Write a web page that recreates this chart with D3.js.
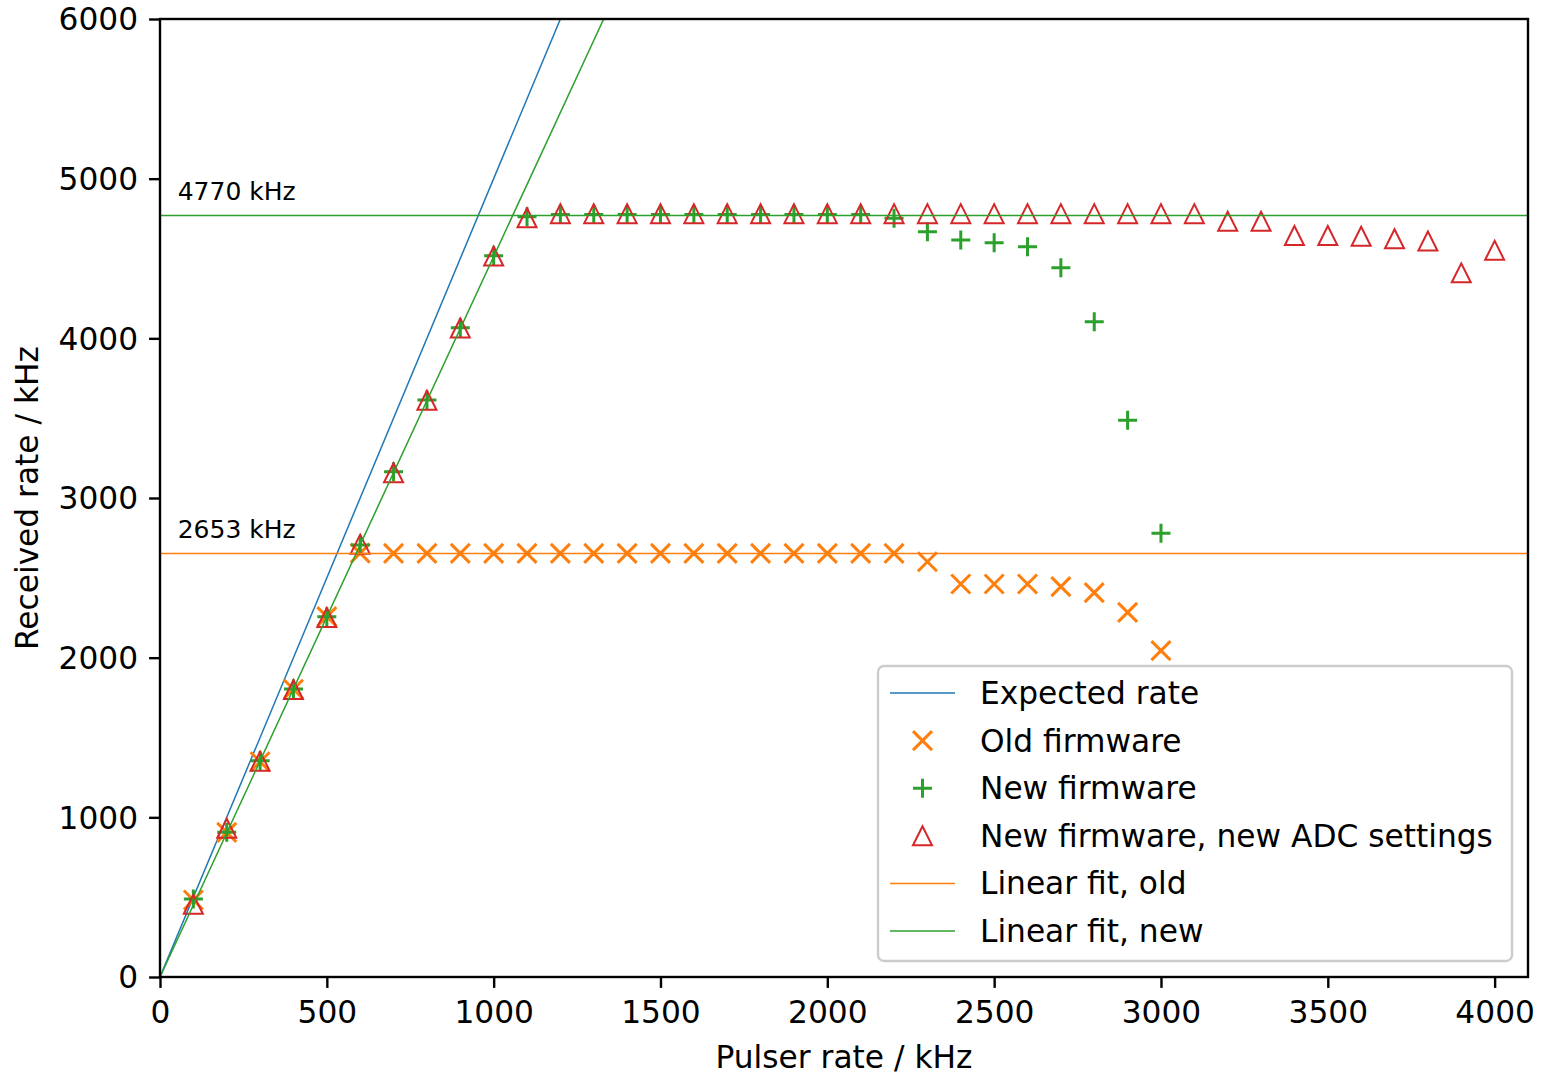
<!DOCTYPE html>
<html>
<head>
<meta charset="utf-8">
<script src="https://cdn.jsdelivr.net/npm/d3@7/dist/d3.min.js"></script>
<style>
  html, body { margin: 0; padding: 0; background: #fff; }
  text { font-family: "DejaVu Sans", sans-serif; }
</style>
</head>
<body>
<svg id="chart" width="1544" height="1075"></svg>
<script>
// ---- data ----
const pulserRates = [100,200,300,400,500,600,700,800,900,1000,1100,1200,1300,1400,1500,1600,1700,1800,1900,2000,
                     2100,2200,2300,2400,2500,2600,2700,2800,2900,3000,3100,3200,3300,3400,3500,3600,3700,3800,3900,4000];
const oldFirmware = [482,906,1348,1802,2257,2655,2653,2653,2653,2653,2653,2653,2653,2653,2653,2653,2653,2653,2653,2653,
                     2653,2653,2601,2461,2461,2461,2445,2407,2284,2044];
const newFirmware = [488,906,1355,1804,2257,2706,3165,3614,4067,4518,4762,4776,4776,4776,4776,4776,4776,4776,4776,4776,
                     4776,4752,4668,4616,4599,4574,4442,4104,3487,2779];
const newFirmwareADC = [456,931,1352,1801,2252,2711,3158,3612,4065,4515,4755,4781,4781,4781,4781,4781,4781,4781,4781,4781,
                        4781,4781,4781,4781,4781,4781,4781,4781,4781,4781,4781,4733,4733,4644,4644,4639,4624,4610,4410,4551];
const expectedSlope = 5.0;
const fitNewSlope = 4.512;
const plateauOld = 2653;
const plateauNew = 4770;
const xTicks = [0,500,1000,1500,2000,2500,3000,3500,4000];
const yTicks = [0,1000,2000,3000,4000,5000,6000];
const legendLabels = ["Expected rate","Old firmware","New firmware","New firmware, new ADC settings","Linear fit, old","Linear fit, new"];

const C = { blue: "#1f77b4", orange: "#ff7f0e", green: "#2ca02c", red: "#d62728" };
const FS = 31.25, FSA = 25;

// ---- layout ----
const svg = d3.select("#chart");
const L = 160, R = 1528, T = 19, B = 977;
const x = d3.scaleLinear().domain([0, 4100]).range([L, R]);
const y = d3.scaleLinear().domain([0, 6000]).range([B, T]);

const defs = svg.append("defs");
defs.append("clipPath").attr("id", "clip").append("rect")
  .attr("x", L).attr("y", T).attr("width", R - L).attr("height", B - T);

const plot = svg.append("g").attr("clip-path", "url(#clip)");

// lines
const line = d3.line().x(d => x(d[0])).y(d => y(d[1]));
plot.append("path").attr("d", line([[0,0],[6000/expectedSlope, 6000]]))
  .attr("stroke", C.blue).attr("stroke-width", 1.5).attr("fill", "none");

// markers
const oldPts = oldFirmware.map((v,i) => [pulserRates[i], v]);
const newPts = newFirmware.map((v,i) => [pulserRates[i], v]);
const adcPts = newFirmwareADC.map((v,i) => [pulserRates[i], v]);

const xs = 9.5;
plot.append("g").selectAll("path").data(oldPts).join("path")
  .attr("d", d => `M${x(d[0])-xs},${y(d[1])-xs}L${x(d[0])+xs},${y(d[1])+xs}M${x(d[0])-xs},${y(d[1])+xs}L${x(d[0])+xs},${y(d[1])-xs}`)
  .attr("stroke", C.orange).attr("stroke-width", 3).attr("fill", "none");

const ps = 9.5;
plot.append("g").selectAll("path").data(newPts).join("path")
  .attr("d", d => `M${x(d[0])-ps},${y(d[1])}L${x(d[0])+ps},${y(d[1])}M${x(d[0])},${y(d[1])-ps}L${x(d[0])},${y(d[1])+ps}`)
  .attr("stroke", C.green).attr("stroke-width", 3).attr("fill", "none");

const ts = 9.5;
plot.append("g").selectAll("path").data(adcPts).join("path")
  .attr("d", d => `M${x(d[0])},${y(d[1])-ts}L${x(d[0])-ts},${y(d[1])+ts}L${x(d[0])+ts},${y(d[1])+ts}Z`)
  .attr("stroke", C.red).attr("stroke-width", 2).attr("fill", "none");

// fit lines
plot.append("path").attr("d", line([[0, plateauOld],[4100, plateauOld]]))
  .attr("stroke", C.orange).attr("stroke-width", 1.5).attr("fill", "none");
plot.append("path").attr("d", line([[0,0],[6000/fitNewSlope, 6000]]))
  .attr("stroke", C.green).attr("stroke-width", 1.5).attr("fill", "none");
plot.append("path").attr("d", line([[0, plateauNew],[4100, plateauNew]]))
  .attr("stroke", C.green).attr("stroke-width", 1.5).attr("fill", "none");

// annotations
svg.append("text").attr("x", x(53)).attr("y", y(plateauNew) - 15)
  .attr("font-size", FSA).text(plateauNew + " kHz");
svg.append("text").attr("x", x(53)).attr("y", y(plateauOld) - 15)
  .attr("font-size", FSA).text(plateauOld + " kHz");

// axes
const xAxis = d3.axisBottom(x).tickValues(xTicks).tickSize(10.9).tickPadding(11).tickFormat(d3.format("d"));
const yAxis = d3.axisLeft(y).tickValues(yTicks).tickSize(10.9).tickPadding(11).tickFormat(d3.format("d"));
const gx = svg.append("g").attr("transform", `translate(0,${B})`).call(xAxis);
const gy = svg.append("g").attr("transform", `translate(${L},0)`).call(yAxis);
[gx, gy].forEach(g => {
  g.select(".domain").remove();
  g.selectAll(".tick line").attr("stroke", "#000").attr("stroke-width", 2.4);
  g.selectAll(".tick text").attr("font-size", FS).attr("fill", "#000")
    .style("font-family", "DejaVu Sans, sans-serif");
});
gx.selectAll(".tick text").attr("dy", "0.76em");
gy.selectAll(".tick text").attr("dy", "0.35em");

// frame
svg.append("rect").attr("x", L).attr("y", T).attr("width", R - L).attr("height", B - T)
  .attr("fill", "none").attr("stroke", "#000").attr("stroke-width", 2.4);

// axis labels
svg.append("text").attr("x", (L + R) / 2).attr("y", 1068).attr("text-anchor", "middle")
  .attr("font-size", FS).text("Pulser rate / kHz");
svg.append("text").attr("transform", `translate(38,${(T + B) / 2}) rotate(-90)`)
  .attr("text-anchor", "middle").attr("font-size", FS).text("Received rate / kHz");

// legend
const lg = svg.append("g");
lg.append("rect").attr("x", 878).attr("y", 666).attr("width", 634).attr("height", 295)
  .attr("rx", 6).attr("fill", "#fff").attr("fill-opacity", 0.8)
  .attr("stroke", "#cccccc").attr("stroke-width", 2.4);
const rowY = i => 693 + i * 47.6;
const hx0 = 890, hx1 = 955, hxm = 922.5;
legendLabels.forEach((lab, i) => {
  const cy = rowY(i);
  if (i === 0 || i === 4 || i === 5) {
    const col = i === 0 ? C.blue : (i === 4 ? C.orange : C.green);
    lg.append("line").attr("x1", hx0).attr("x2", hx1).attr("y1", cy).attr("y2", cy)
      .attr("stroke", col).attr("stroke-width", 1.5);
  } else if (i === 1) {
    lg.append("path").attr("d", `M${hxm-xs},${cy-xs}L${hxm+xs},${cy+xs}M${hxm-xs},${cy+xs}L${hxm+xs},${cy-xs}`)
      .attr("stroke", C.orange).attr("stroke-width", 3);
  } else if (i === 2) {
    lg.append("path").attr("d", `M${hxm-ps},${cy}L${hxm+ps},${cy}M${hxm},${cy-ps}L${hxm},${cy+ps}`)
      .attr("stroke", C.green).attr("stroke-width", 3);
  } else {
    lg.append("path").attr("d", `M${hxm},${cy-ts}L${hxm-ts},${cy+ts}L${hxm+ts},${cy+ts}Z`)
      .attr("stroke", C.red).attr("stroke-width", 2).attr("fill", "none");
  }
  lg.append("text").attr("x", 980).attr("y", cy).attr("dy", "0.35em")
    .attr("font-size", FS).text(lab);
});
</script>
</body>
</html>
